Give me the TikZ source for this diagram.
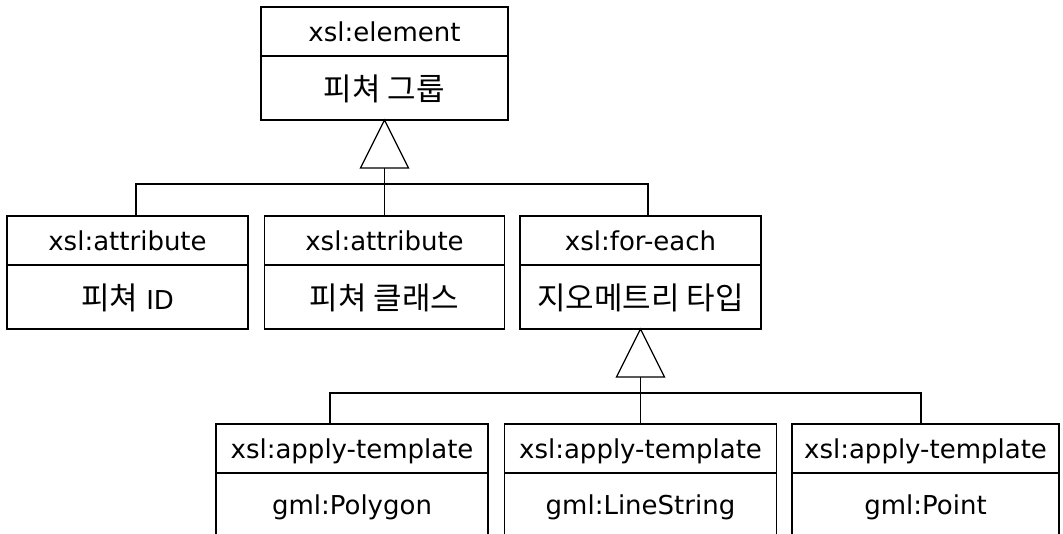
\documentclass[tikz,border=0pt]{standalone}
\usepackage{fontspec}
\setmainfont{DejaVu Sans}
\newfontfamily\krfont{Noto Sans CJK KR}
\newcommand{\ko}[1]{{\krfont\fontsize{31}{36}\selectfont #1}}
\usetikzlibrary{calc}
\begin{document}
\begin{tikzpicture}[x=1pt,y=-1pt,line width=1.3pt,
  cell/.style={draw, rectangle, inner sep=0pt, outer sep=0pt, anchor=north,
    text height=19pt, text depth=0pt, font=\fontsize{26}{30}\selectfont},
  hdr/.style={cell, minimum height=49pt},
  bdy/.style={cell, minimum height=64pt},
  kbdy/.style={bdy, text height=24pt},
  tri/.style={draw, fill=white, line join=miter}]
\useasboundingbox (0,0) rectangle (1063,533);
\clip (0,0) rectangle (1063,533);
% top
\node[hdr, minimum width=247pt] (eh) at (384.5,7) {xsl:element};
\node[kbdy, minimum width=247pt] (eb) at (eh.south) {\ko{피쳐 그룹}};
% row 2
\node[hdr, minimum width=241pt] (a1h) at (127.5,216) {xsl:attribute};
\node[kbdy, minimum width=241pt] (a1b) at (a1h.south) {\ko{피쳐} ID};
\node[hdr, minimum width=240pt] (a2h) at (384.5,216) {xsl:attribute};
\node[kbdy, minimum width=240pt] (a2b) at (a2h.south) {\ko{피쳐 클래스}};
\node[hdr, minimum width=241pt] (fh) at (640.5,216) {xsl:for-each};
\node[kbdy, minimum width=241pt] (fb) at (fh.south) {\ko{지오메트리 타입}};
% row 3
\node[hdr, minimum width=272pt] (p1h) at (352,424) {xsl:apply-template};
\node[bdy, minimum width=272pt] (p1b) at (p1h.south) {gml:Polygon};
\node[hdr, minimum width=272pt] (p2h) at (640.5,424) {xsl:apply-template};
\node[bdy, minimum width=272pt] (p2b) at (p2h.south) {gml:LineString};
\node[hdr, minimum width=267pt] (p3h) at (925.5,424) {xsl:apply-template};
\node[bdy, minimum width=267pt] (p3b) at (p3h.south) {gml:Point};
% tree 1
\coordinate (t1) at ($(eb.south)+(0,48)$);
\draw ([xshift=8.5pt]a1h.north) -- ++(0,-32) -| ([xshift=7.5pt]fh.north);
\draw (t1) -- (a2h.north);
\draw[tri] (eb.south) -- ++(-24,48) -- ++(48,0) -- cycle;
% tree 2
\coordinate (t2) at ($(fb.south)+(0,48)$);
\draw ([xshift=-22pt]p1h.north) -- ++(0,-31) -| ([xshift=-4.5pt]p3h.north);
\draw (t2) -- (p2h.north);
\draw[tri] (fb.south) -- ++(-24,48) -- ++(48,0) -- cycle;
\end{tikzpicture}
\end{document}
